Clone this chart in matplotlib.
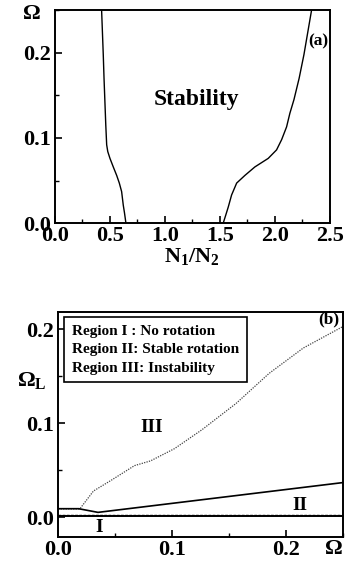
import matplotlib
matplotlib.use("Agg")
import matplotlib.pyplot as plt
from matplotlib.ticker import MultipleLocator

plt.rcParams["font.family"] = ["Liberation Serif", "DejaVu Serif"]
plt.rcParams["font.weight"] = "bold"
plt.rcParams["mathtext.fontset"] = "custom"
plt.rcParams["mathtext.rm"] = "Liberation Serif:bold"
plt.rcParams["mathtext.it"] = "Liberation Serif:bold"
plt.rcParams["mathtext.bf"] = "Liberation Serif:bold"

# panel (a): stability boundaries, N1/N2 vs Omega
left_n = [0.645, 0.632, 0.621, 0.606, 0.585, 0.561, 0.530, 0.500, 0.480, 0.470, 0.462, 0.455, 0.446, 0.439, 0.424]
left_om = [0.0, 0.012, 0.021, 0.037, 0.047, 0.056, 0.066, 0.076, 0.084, 0.092, 0.115, 0.139, 0.170, 0.198, 0.250]
right_n = [1.530, 1.552, 1.576, 1.606, 1.652, 1.727, 1.818, 1.939, 2.015, 2.061, 2.106, 2.136, 2.173, 2.220, 2.264, 2.333]
right_om = [0.0, 0.009, 0.019, 0.033, 0.047, 0.056, 0.066, 0.076, 0.086, 0.098, 0.113, 0.129, 0.145, 0.170, 0.198, 0.250]

# panel (b): Omega_L boundaries vs Omega
b3_x = [0.0, 0.019, 0.031, 0.046, 0.067, 0.081, 0.102, 0.126, 0.156, 0.185, 0.215, 0.250]
b3_y = [0.0089, 0.0089, 0.028, 0.039, 0.055, 0.060, 0.073, 0.093, 0.121, 0.153, 0.180, 0.203]
b2_x = [0.0, 0.018, 0.035, 0.250]
b2_y = [0.0092, 0.0092, 0.0053, 0.037]
b1_x = [0.0, 0.030, 0.250]
b1_y = [0.003, 0.003, 0.003]
b0_x = [0.0, 0.250]
b0_y = [0.001, 0.001]

legend_lines = ["Region I : No rotation", "Region II: Stable rotation", "Region III: Instability"]

fig = plt.figure(figsize=(3.48, 5.72), dpi=100)

def style(ax):
    for s in ax.spines.values():
        s.set_linewidth(1.4)
    ax.tick_params(which="both", direction="in", top=False, right=False, labelsize=16)
    ax.tick_params(which="major", length=5, width=1.2)
    ax.tick_params(which="minor", length=3, width=1.0)
    ax.tick_params(axis="x", pad=2)
    ax.tick_params(axis="y", pad=3)

# (a)
ax1 = fig.add_axes([0.158, 0.610, 0.790, 0.372])
ax1.plot(left_n, left_om, color="black", lw=1.0)
ax1.plot(right_n, right_om, color="black", lw=1.0)
ax1.set_xlim(0, 2.5)
ax1.set_ylim(0, 0.25)
ax1.xaxis.set_major_locator(MultipleLocator(0.5))
ax1.xaxis.set_minor_locator(MultipleLocator(0.25))
ax1.yaxis.set_major_locator(MultipleLocator(0.1))
ax1.yaxis.set_minor_locator(MultipleLocator(0.05))
style(ax1)
ax1.text(1.29, 0.145, "Stability", fontsize=17, ha="center", va="center")
ax1.text(2.49, 0.213, "(a)", fontsize=12.5, ha="right", va="center")
ax1.set_xlabel(r"$\mathrm{N_1/N_2}$", fontsize=16, labelpad=0)
fig.text(0.065, 0.975, "Ω", fontsize=16, ha="left", va="center")

# (b)
ax2 = fig.add_axes([0.167, 0.061, 0.819, 0.393])
ax2.plot(b3_x, b3_y, color="#444444", lw=0.9, ls=(0, (1, 1)))
ax2.plot(b2_x, b2_y, color="black", lw=1.2)
ax2.plot(b1_x, b1_y, color="black", lw=1.0, ls=(0, (2, 1)))
ax2.plot(b0_x, b0_y, color="black", lw=1.4)
ax2.set_xlim(0, 0.25)
ax2.set_ylim(-0.021, 0.218)
ax2.xaxis.set_major_locator(MultipleLocator(0.1))
ax2.xaxis.set_minor_locator(MultipleLocator(0.05))
ax2.yaxis.set_major_locator(MultipleLocator(0.1))
ax2.yaxis.set_minor_locator(MultipleLocator(0.05))
style(ax2)
ax2.text(0.082, 0.096, "III", fontsize=14, ha="center", va="center")
ax2.text(0.212, 0.013, "II", fontsize=14, ha="center", va="center")
ax2.text(0.036, -0.011, "I", fontsize=14, ha="center", va="center")
ax2.text(0.247, 0.210, "(b)", fontsize=12.5, ha="right", va="center")
ax2.text(0.012, 0.205, "\n".join(legend_lines), fontsize=11, ha="left", va="top",
         linespacing=1.55,
         bbox=dict(boxstyle="square,pad=0.5", fc="white", ec="black", lw=1.2))
fig.text(0.05, 0.335, r"$\Omega_\mathrm{L}$", fontsize=16, ha="left", va="center")
fig.text(0.985, 0.04, "Ω", fontsize=16, ha="right", va="center")

fig.savefig("out.png", dpi=100)
